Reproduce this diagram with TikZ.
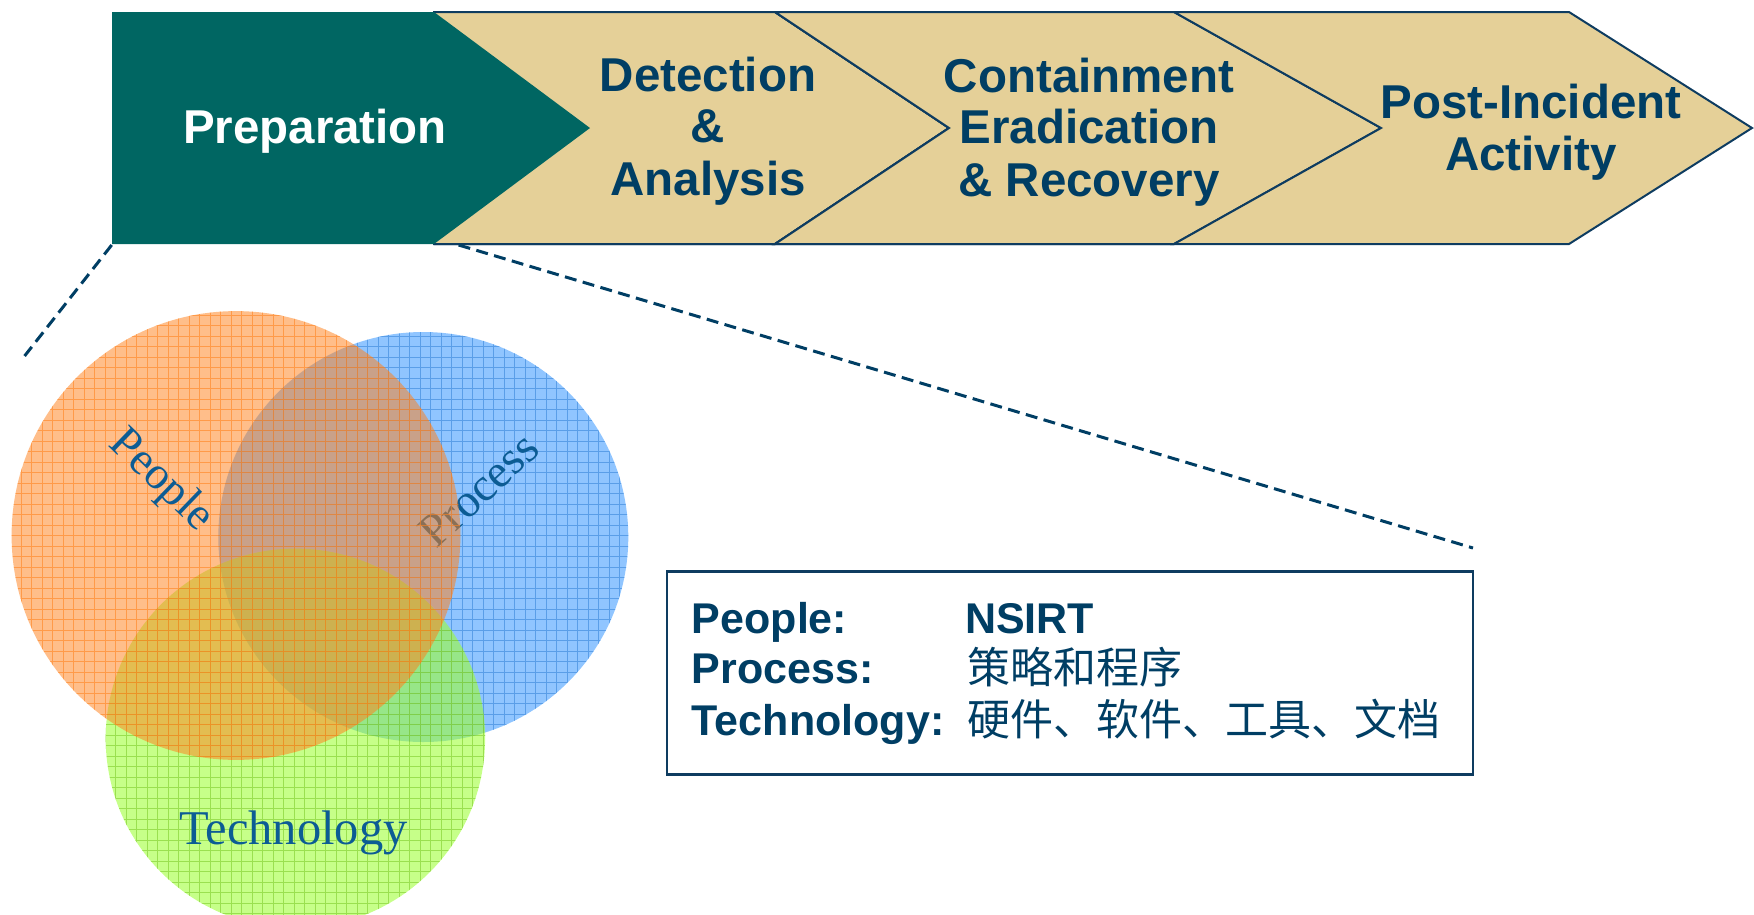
\documentclass[tikz,border=0pt]{standalone}
\usepackage{fontspec}
\newfontfamily\lsans{Liberation Sans}
\newfontfamily\lserif{Liberation Serif}
\newfontfamily\cjk{Noto Sans CJK SC}
\definecolor{prepgreen}{HTML}{006662}
\definecolor{tanfill}{HTML}{E5D098}
\definecolor{navy}{HTML}{003E64}
\definecolor{navyline}{HTML}{0E3C60}
\definecolor{dashcol}{HTML}{003E64}
\definecolor{vtext}{HTML}{0C5C94}
\definecolor{corange}{RGB}{255,130,30}
\definecolor{cblue}{RGB}{63,155,255}
\definecolor{cgreen}{RGB}{157,255,52}
\begin{document}
\begin{tikzpicture}[x=1pt,y=-1pt,
  chev/.style={fill=tanfill, draw=navyline, line width=2pt, line join=miter},
  phase/.style={font=\lsans\bfseries\fontsize{47.5}{52}\selectfont, text=navy, anchor=base, inner sep=0pt},
  prep/.style={font=\lsans\bfseries\fontsize{47.5}{52}\selectfont, text=white, anchor=base, inner sep=0pt},
  zoomline/.style={draw=dashcol, line width=3pt, dash pattern=on 12pt off 6.5pt},
  vlabel/.style={font=\lserif\fontsize{47}{52}\selectfont, text=vtext, inner sep=0pt},
  boxlbl/.style={font=\lsans\bfseries\fontsize{43}{50}\selectfont, text=navy, anchor=base west, inner sep=0pt},
  boxcjk/.style={font=\cjk\fontsize{43}{50}\selectfont, text=navy, anchor=base west, inner sep=0pt},
  gridlines/.style={line width=1pt, opacity=0.6}
]
\useasboundingbox (0,0) rectangle (1754,914);

% ---------- banner ----------
\fill[chev] (434,12) -- (775,12) -- (949,128) -- (775,244) -- (434,244) -- cycle;
\draw[chev] (434,12) -- (775,12) -- (949,128) -- (775,244) -- (434,244);
\fill[chev] (775,12) -- (1174,12) -- (1381,128) -- (1174,244) -- (775,244) -- (949,128) -- cycle;
\draw[chev] (775,12) -- (1174,12) -- (1381,128) -- (1174,244) -- (775,244) -- (949,128) -- cycle;
\draw[chev] (1174,12) -- (1569,12) -- (1752,128) -- (1569,244) -- (1174,244) -- (1381,128) -- cycle;
\fill[prepgreen] (112,12) -- (434,12) -- (590,128) -- (434,244) -- (112,244) -- cycle;

\node[prep] (prep) at (315,143.3) {Preparation};
\node[phase] (det1) at (708,91) {Detection};
\node[phase] (det2) at (708,142.5) {\&};
\node[phase] (det3) at (708,195) {Analysis};
\node[phase] (con1) at (1089,92) {Containment};
\node[phase] (con2) at (1089,143.5) {Eradication};
\node[phase] (con3) at (1089,196) {\& Recovery};
\node[phase] (pos1) at (1531,118) {Post-Incident};
\node[phase] (pos2) at (1531,170.5) {Activity};

% ---------- zoom lines ----------
\coordinate (za) at (111.7,245);
\coordinate (zb) at (24.6,356);
\coordinate (zc) at (458.6,245);
\coordinate (zd) at (1473,548);
\draw[zoomline] (za) -- (zb);
\draw[zoomline] (zc) -- (zd);

% ---------- circles ----------
\coordinate (cb) at (423.3,537);
\coordinate (cg) at (295.4,738.3);
\coordinate (co) at (236,535.5);

\begin{scope}
  \fill[cblue, fill opacity=0.58] (cb) circle (205pt);
  \clip (cb) circle (205pt);
  \draw[cblue!85!black, gridlines, step=10.5pt] (210,325) grid (640,750);
\end{scope}
\node[vlabel, rotate=43] (proc) at (478.8,489.8) {Process};

\begin{scope}
  \fill[cgreen, fill opacity=0.58] (cg) circle (189.7pt);
  \clip (cg) circle (189.7pt);
  \draw[cgreen!80!black, gridlines, step=10.5pt] (100,540) grid (490,930);
\end{scope}
\node[vlabel, anchor=base, font=\lserif\fontsize{48.5}{52}\selectfont] (tech) at (293.5,844) {Technology};

\begin{scope}
  \fill[corange, fill opacity=0.52] (co) circle (224.4pt);
  \clip (co) circle (224.4pt);
  \draw[corange, gridlines, step=10.5pt] (5,305) grid (465,765);
\end{scope}
\node[vlabel, rotate=-44, font=\lserif\fontsize{46}{50}\selectfont] (peop) at (160.7,481) {People};

% ---------- text box ----------
\node[draw=navyline, line width=2.5pt, minimum width=806pt, minimum height=203pt, anchor=north west, inner sep=0pt] (box) at (665.6,570) {};
\node[boxlbl] (lp) at (691.7,633.3) {People:};
\node[boxlbl] (vp) at (965,633.3) {NSIRT};
\node[boxlbl] (lpr) at (691.7,683.3) {Process:};
\node[boxcjk] (vpr) at (967,683.3) {策略和程序};
\node[boxlbl] (lt) at (691.7,735) {Technology:};
\node[boxcjk] (vt) at (967,735) {硬件、软件、工具、文档};
\end{tikzpicture}
\end{document}
